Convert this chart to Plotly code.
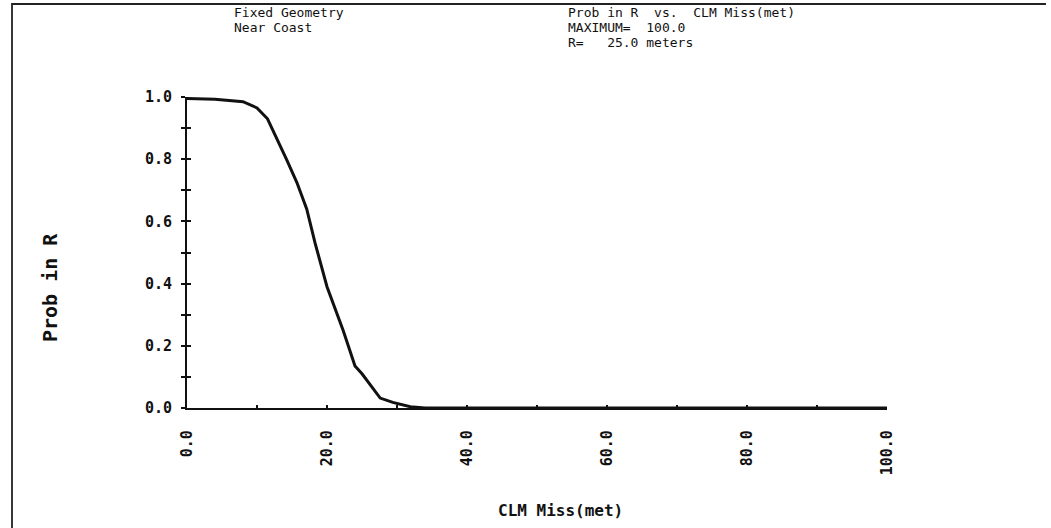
import plotly.graph_objects as go

# ---- data ----
clm_miss = [0, 4, 8, 10, 11.5, 13, 14.2, 15.7, 17.1, 18.3, 20, 22.3, 24, 25,
            26, 27.6, 29.4, 31.9, 34, 40, 50, 60, 70, 80, 90, 100]
prob_in_r = [0.995, 0.993, 0.985, 0.965, 0.93, 0.86, 0.80, 0.725, 0.64, 0.53,
             0.39, 0.25, 0.135, 0.11, 0.08, 0.032, 0.018, 0.004, 0.0,
             0.0, 0.0, 0.0, 0.0, 0.0, 0.0, 0.0]

y_tick_vals = [0.0, 0.1, 0.2, 0.3, 0.4, 0.5, 0.6, 0.7, 0.8, 0.9, 1.0]
y_tick_text = ["0.0", "", "0.2", "", "0.4", "", "0.6", "", "0.8", "", "1.0"]
x_tick_vals = [0, 10, 20, 30, 40, 50, 60, 70, 80, 90, 100]
x_tick_text = ["0.0", "", "20.0", "", "40.0", "", "60.0", "", "80.0", "", "100.0"]

header_left = ["Fixed Geometry", "Near Coast"]
header_right = ["Prob in R  vs.  CLM Miss(met)", "MAXIMUM=  100.0", "R=   25.0 meters"]
x_title = "CLM Miss(met)"
y_title = "Prob in R"

# ---- layout geometry (pixels) ----
W, H = 1051, 528
L, R, T, B = 187, 164, 97, 120
PW, PH = W - L - R, H - T - B

def px(xp):
    return (xp - L) / PW

def py(yp):
    return (H - B - yp) / PH

FONT = "DejaVu Sans Mono"
INK = "#111111"

fig = go.Figure()
fig.add_trace(go.Scatter(x=clm_miss, y=prob_in_r, mode="lines",
                         line=dict(color=INK, width=3), showlegend=False))
# invisible trace on overlay axis for inside ticks
fig.add_trace(go.Scatter(x=clm_miss, y=prob_in_r, mode="lines", yaxis="y2",
                         line=dict(color="rgba(0,0,0,0)", width=0),
                         showlegend=False, hoverinfo="skip"))

fig.update_layout(
    width=W, height=H,
    margin=dict(l=L, r=R, t=T, b=B),
    paper_bgcolor="white", plot_bgcolor="white",
    font=dict(family=FONT, color=INK, size=12),
    xaxis=dict(range=[0, 100], tickvals=x_tick_vals, ticktext=x_tick_text,
               tickangle=-90, ticks="inside", ticklen=3, tickwidth=1.5,
               tickcolor=INK, showline=True, linecolor=INK, linewidth=2.2,
               showgrid=False, zeroline=False, ticklabelstandoff=14,
               tickfont=dict(family=FONT, size=15, color=INK, weight="bold")),
    yaxis=dict(range=[0, 1], tickvals=y_tick_vals, ticktext=y_tick_text,
               ticks="outside", ticklen=4, tickwidth=1.8, tickcolor=INK,
               showline=True, linecolor=INK, linewidth=2, showgrid=False,
               zeroline=False, ticklabelstandoff=6,
               tickfont=dict(family=FONT, size=15, color=INK, weight="bold")),
    yaxis2=dict(range=[0, 1], overlaying="y", side="left", tickvals=y_tick_vals,
                ticktext=[""] * len(y_tick_vals), ticks="inside", ticklen=4,
                tickwidth=1.8, tickcolor=INK, showline=False, showgrid=False,
                zeroline=False),
)

ann = []
for i, t in enumerate(header_left):
    ann.append(dict(text=t, x=px(232), y=py(12 + 15 * i), xref="paper", yref="paper",
                    xanchor="left", yanchor="middle", showarrow=False,
                    font=dict(size=13, family=FONT, color=INK)))
for i, t in enumerate(header_right):
    ann.append(dict(text=t, x=px(566), y=py(12 + 15 * i), xref="paper", yref="paper",
                    xanchor="left", yanchor="middle", showarrow=False,
                    font=dict(size=13, family=FONT, color=INK)))
ann.append(dict(text=x_title, x=px(560), y=py(510), xref="paper", yref="paper",
                xanchor="center", yanchor="middle", showarrow=False,
                font=dict(size=16, family=FONT, color=INK, weight="bold")))
ann.append(dict(text=y_title, x=px(50), y=py(288), xref="paper", yref="paper",
                xanchor="center", yanchor="middle", showarrow=False, textangle=-90,
                font=dict(size=20, family=FONT, color=INK, weight="bold")))
fig.update_layout(annotations=ann)

# scanned page frame (top and left edges)
x_l, x_r, y_t, y_b = px(12), px(1046), py(4), py(528)
fig.add_shape(type="path", xref="paper", yref="paper",
              path=f"M {x_l} {y_b} L {x_l} {y_t} L {x_r} {y_t}",
              line=dict(color="#222222", width=1.8))

fig.write_html("out.html")
